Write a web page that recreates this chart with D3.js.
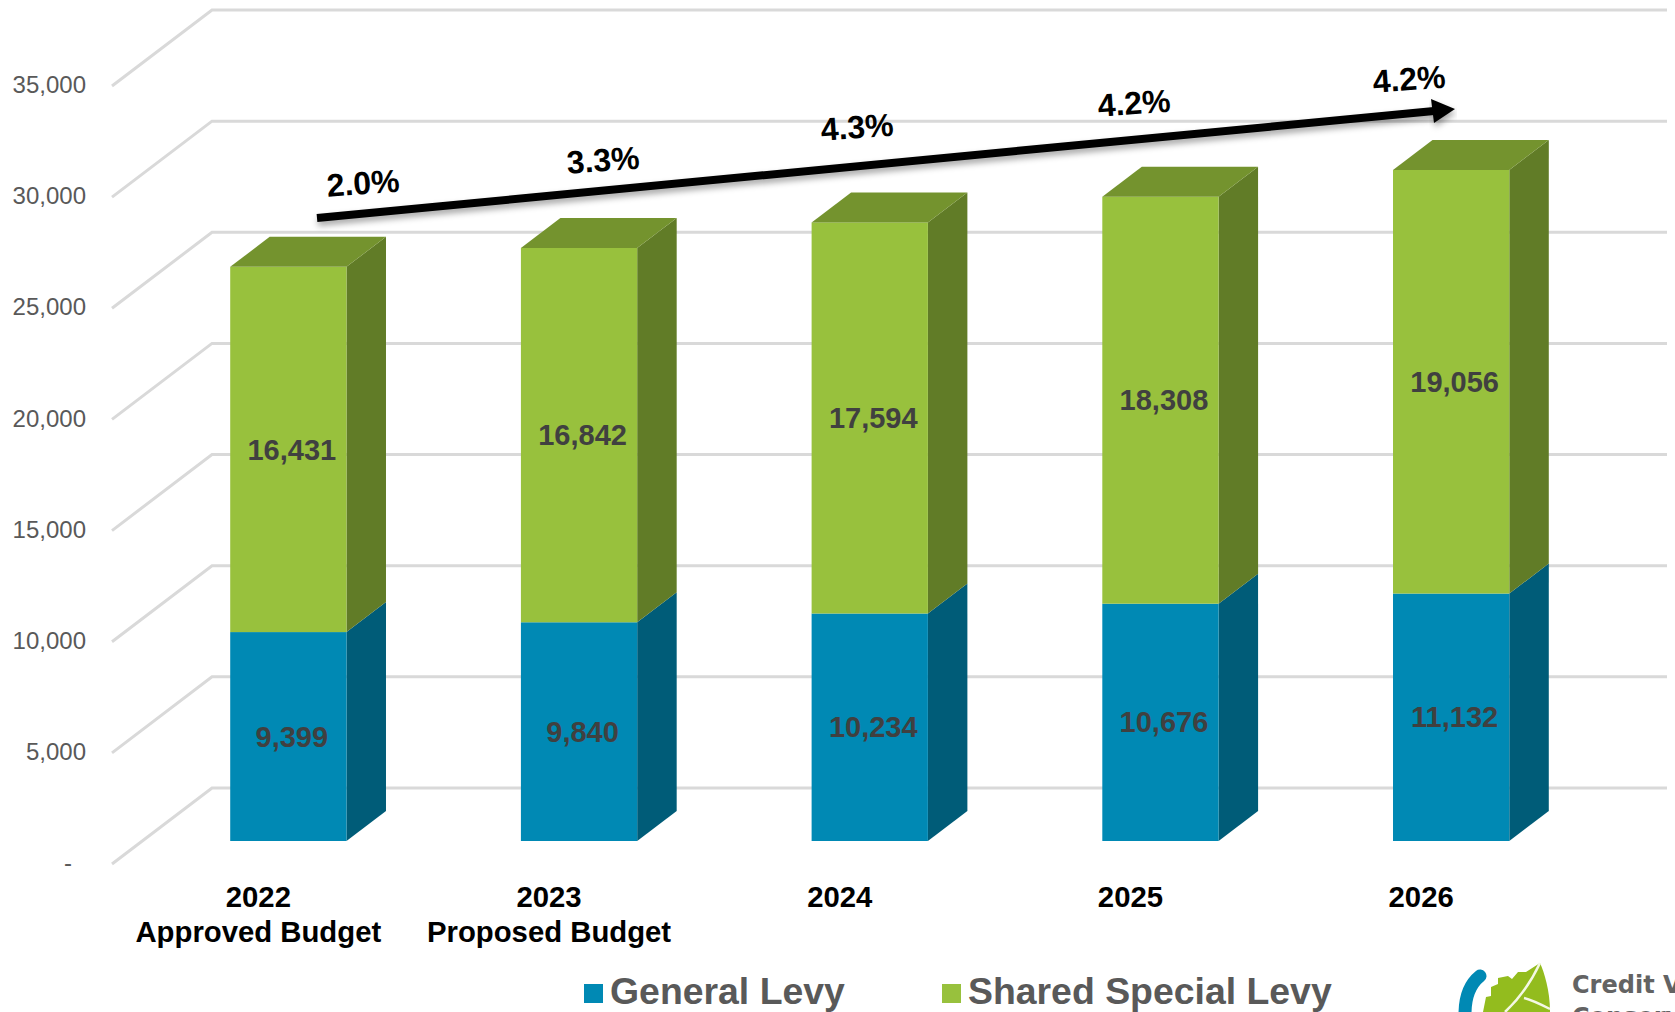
<!DOCTYPE html>
<html>
<head>
<meta charset="utf-8">
<script src="https://cdn.jsdelivr.net/npm/d3@7"></script>
<style>
  html, body { margin: 0; padding: 0; background: #fff; overflow: hidden; }
  svg { display: block; font-family: "Liberation Sans", Arial, sans-serif; }
</style>
</head>
<body>
<div id="chart"></div>
<script>
var categories = ["2022", "2023", "2024", "2025", "2026"];
var categorySub = ["Approved Budget", "Proposed Budget", "", "", ""];
var generalLevy = [9399, 9840, 10234, 10676, 11132];
var sharedLevy = [16431, 16842, 17594, 18308, 19056];
var growthLabels = ["2.0%", "3.3%", "4.3%", "4.2%", "4.2%"];
var yTicks = [0, 5000, 10000, 15000, 20000, 25000, 30000, 35000];
var seriesNames = ["General Levy", "Shared Special Levy"];

var width = 1675, height = 1012;

// 3d offsets: wall depth and bar depth
var depth = { x: 100, y: -76 };
var barDepth = { x: 39.5, y: -30 };
var gridLeft = 112, gridRight = 1567;

var colors = [
  { front: "#0089B4", side: "#005C78", top: "#0072A0" },
  { front: "#98C13D", side: "#617C27", top: "#74932E" }
];

var svg = d3.select("#chart").append("svg")
  .attr("width", width)
  .attr("height", height);

var defs = svg.append("defs");
var shadow = defs.append("filter").attr("id", "arrowShadow")
  .attr("x", "-5%").attr("y", "-100%").attr("width", "110%").attr("height", "300%");
shadow.append("feDropShadow")
  .attr("dx", 1).attr("dy", 4).attr("stdDeviation", 3)
  .attr("flood-color", "#000").attr("flood-opacity", 0.35);

// front plane of the floor (axis labels), and the plane the bars stand on
var yWall = d3.scaleLinear().domain([0, 35000]).range([864, 86]);
var yBar = d3.scaleLinear().domain([0, 35000]).range([841, 63]);

var xWall = d3.scaleBand().domain(categories).range([112, 1565.5]);
var xBar = d3.scaleBand().domain(categories).range([143, 1596.5]).paddingInner(0.6).paddingOuter(0.3);

// gridlines
var grid = svg.append("g").attr("class", "grid");
yTicks.forEach(function(t) {
  var y0 = yWall(t);
  grid.append("path")
    .attr("d", "M" + gridLeft + "," + y0 + "L" + (gridLeft + depth.x) + "," + (y0 + depth.y) + "L" + (gridRight + depth.x) + "," + (y0 + depth.y))
    .attr("fill", "none")
    .attr("stroke", "#D9D9D9")
    .attr("stroke-width", 3);
});

// y axis
var yAxis = d3.axisLeft(yWall)
  .tickValues(yTicks)
  .tickSize(0)
  .tickPadding(26)
  .tickFormat(function(d) { return d === 0 ? "-" : d3.format(",")(d); });

var yG = svg.append("g")
  .attr("transform", "translate(112,-1)")
  .call(yAxis);
yG.select(".domain").remove();
yG.selectAll("text")
  .attr("font-family", "Liberation Sans")
  .attr("font-size", 24)
  .attr("fill", "#595959");
yG.selectAll(".tick text")
  .filter(function(d) { return d === 0; })
  .attr("x", -40);

// bars, bottom segment first
var stacked = categories.map(function(c, i) {
  return [
    { cat: c, s: 0, y0: 0, y1: generalLevy[i], value: generalLevy[i] },
    { cat: c, s: 1, y0: generalLevy[i], y1: generalLevy[i] + sharedLevy[i], value: sharedLevy[i] }
  ];
});

function pts(a) {
  return a.map(function(p) { return p.join(","); }).join(" ");
}

var bars = svg.selectAll("g.bar")
  .data(stacked)
  .enter().append("g")
  .attr("class", "bar");

var seg = bars.selectAll("g.seg")
  .data(function(d) { return d; })
  .enter().append("g")
  .attr("class", "seg");

seg.append("polygon")
  .attr("fill", function(d) { return colors[d.s].side; })
  .attr("points", function(d) {
    var x1 = xBar(d.cat) + xBar.bandwidth();
    return pts([
      [x1, yBar(d.y0)], [x1 + barDepth.x, yBar(d.y0) + barDepth.y],
      [x1 + barDepth.x, yBar(d.y1) + barDepth.y], [x1, yBar(d.y1)]
    ]);
  });

seg.append("rect")
  .attr("x", function(d) { return xBar(d.cat); })
  .attr("y", function(d) { return yBar(d.y1); })
  .attr("width", xBar.bandwidth())
  .attr("height", function(d) { return yBar(d.y0) - yBar(d.y1); })
  .attr("fill", function(d) { return colors[d.s].front; });

// only the top segment shows its lid
seg.filter(function(d) { return d.s === 1; }).append("polygon")
  .attr("fill", function(d) { return colors[d.s].top; })
  .attr("points", function(d) {
    var x0 = xBar(d.cat), x1 = x0 + xBar.bandwidth(), y = yBar(d.y1);
    return pts([
      [x0, y], [x0 + barDepth.x, y + barDepth.y],
      [x1 + barDepth.x, y + barDepth.y], [x1, y]
    ]);
  });

seg.append("text")
  .attr("x", function(d) { return xBar(d.cat) + xBar.bandwidth() / 2 + 3.5; })
  .attr("y", function(d) { return (yBar(d.y0) + yBar(d.y1)) / 2; })
  .attr("dy", "0.35em")
  .attr("text-anchor", "middle")
  .attr("font-size", 29)
  .attr("font-weight", "bold")
  .attr("fill", "#404040")
  .text(function(d) { return d3.format(",")(d.value); });

// category labels
var xLabels = svg.selectAll("g.xlabel")
  .data(categories)
  .enter().append("g")
  .attr("class", "xlabel")
  .attr("text-anchor", "middle")
  .attr("font-size", 29.3)
  .attr("font-weight", "bold")
  .attr("fill", "#000");

xLabels.append("text")
  .attr("x", function(d) { return xWall(d) + xWall.bandwidth() / 2 + 1; })
  .attr("y", 907)
  .text(function(d) { return d; });

xLabels.append("text")
  .attr("x", function(d) { return xWall(d) + xWall.bandwidth() / 2 + 1; })
  .attr("y", 942)
  .text(function(d, i) { return categorySub[i]; });

// growth arrow
var arrowLine = [[317, 218], [1434, 111]];
svg.append("path")
  .attr("d", d3.line()(arrowLine))
  .attr("stroke", "#000")
  .attr("stroke-width", 8)
  .attr("fill", "none")
  .attr("filter", "url(#arrowShadow)");
svg.append("polygon")
  .attr("points", "1431,99 1455,109 1434,123")
  .attr("fill", "#000")
  .attr("filter", "url(#arrowShadow)");

var growthAnchors = [[363, 183], [603, 160], [857, 127], [1134, 103], [1409, 79]];
svg.selectAll("text.growth")
  .data(growthLabels)
  .enter().append("text")
  .attr("class", "growth")
  .attr("text-anchor", "middle")
  .attr("dy", "0.35em")
  .attr("font-size", 32)
  .attr("font-weight", "bold")
  .attr("fill", "#000")
  .attr("transform", function(d, i) {
    return "translate(" + growthAnchors[i][0] + "," + growthAnchors[i][1] + ") rotate(-4)";
  })
  .text(function(d) { return d; });

// legend
var legendX = [584, 942];
var legend = svg.selectAll("g.legend")
  .data(seriesNames)
  .enter().append("g")
  .attr("class", "legend")
  .attr("transform", function(d, i) { return "translate(" + legendX[i] + ",984)"; });
legend.append("rect")
  .attr("width", 19)
  .attr("height", 19)
  .attr("fill", function(d, i) { return colors[i].front; });
legend.append("text")
  .attr("x", 26)
  .attr("y", 20)
  .attr("font-size", 37.4)
  .attr("font-weight", "bold")
  .attr("fill", "#595959")
  .text(function(d) { return d; });

// logo in the corner, the page edge cuts it off like in the source
var logo = svg.append("g").attr("class", "logo");
logo.append("path")
  .attr("d", "M1480,976C1470,984 1465,998 1465,1014")
  .attr("fill", "none")
  .attr("stroke", "#0089B4")
  .attr("stroke-width", 13)
  .attr("stroke-linecap", "round");
logo.append("path")
  .attr("d", "M1540,963C1544,972 1550,990 1550,1012L1483,1012L1486,997L1491,996L1491,987L1498,984L1498,978L1508,976L1512,979L1518,972L1526,972Z")
  .attr("fill", "#93BC1E");
logo.append("path")
  .attr("d", "M1540,963C1532,980 1520,998 1505,1012M1524,998C1532,1000 1542,1005 1550,1009")
  .attr("fill", "none")
  .attr("stroke", "#F4F8E4")
  .attr("stroke-width", 2.5);
logo.append("text")
  .attr("x", 1572).attr("y", 993)
  .attr("font-family", "DejaVu Sans")
  .attr("font-size", 24)
  .attr("font-weight", "bold")
  .attr("fill", "#636363")
  .text("Credit V");
logo.append("text")
  .attr("x", 1572).attr("y", 1025)
  .attr("font-family", "DejaVu Sans")
  .attr("font-size", 24)
  .attr("font-weight", "bold")
  .attr("fill", "#636363")
  .text("Conserv");
</script>
</body>
</html>
